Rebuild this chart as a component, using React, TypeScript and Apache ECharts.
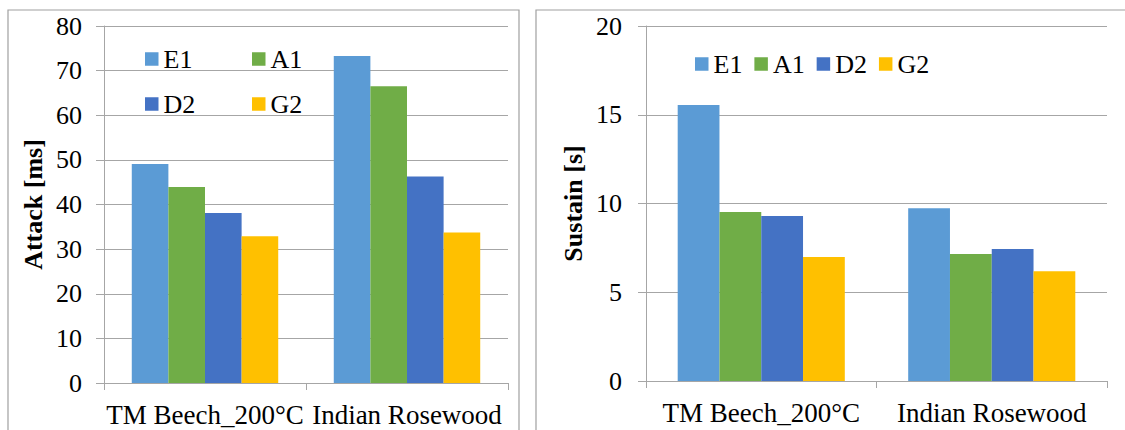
import React, { useEffect, useRef } from "react";
import * as echarts from "echarts";

const categories = ["TM Beech_200°C", "Indian Rosewood"];
const seriesNames = ["E1", "A1", "D2", "G2"];
const colors = ["#5b9bd5", "#70ad47", "#4472c4", "#ffc000"];
const attackE1 = [49.1, 73.3];
const attackA1 = [43.9, 66.5];
const attackD2 = [38.1, 46.3];
const attackG2 = [32.9, 33.7];
const sustainE1 = [15.55, 9.73];
const sustainA1 = [9.52, 7.15];
const sustainD2 = [9.3, 7.44];
const sustainG2 = [6.99, 6.18];
const attackTicks = { min: 0, max: 80, interval: 10 };
const sustainTicks = { min: 0, max: 20, interval: 5 };

const FONT = "Liberation Serif";
const GRID_COLOR = "#a6a6a6";

export default function App() {
  const ref = useRef<HTMLDivElement>(null);
  useEffect(() => {
    if (!ref.current) return;
    const chart = echarts.init(ref.current, undefined, { renderer: "svg" });
    const attack = [attackE1, attackA1, attackD2, attackG2];
    const sustain = [sustainE1, sustainA1, sustainD2, sustainG2];

    const makeX = (gridIndex: number) => ({
      type: "category",
      gridIndex,
      data: categories,
      axisLine: { show: true, lineStyle: { color: GRID_COLOR, width: 1 } },
      axisTick: { show: true, length: 7, interval: 0, lineStyle: { color: GRID_COLOR } },
      axisLabel: { fontFamily: FONT, fontSize: 27, color: "#000", margin: 18, interval: 0 },
      splitLine: { show: false },
    });
    const makeY = (gridIndex: number, t: any, name: string, margin: number, gap: number) => ({
      type: "value",
      gridIndex,
      min: t.min,
      max: t.max,
      interval: t.interval,
      name,
      nameLocation: "middle",
      nameGap: gap,
      nameTextStyle: { fontFamily: FONT, fontSize: 26, fontWeight: "bold", color: "#000" },
      axisLine: { show: true, lineStyle: { color: GRID_COLOR, width: 1 } },
      axisTick: { show: true, length: 8, lineStyle: { color: GRID_COLOR } },
      axisLabel: { fontFamily: FONT, fontSize: 26, color: "#000", margin },
      splitLine: { show: true, lineStyle: { color: GRID_COLOR, width: 1 } },
    });

    const series: any[] = [];
    seriesNames.forEach((n, i) => {
      series.push({
        name: n,
        type: "bar",
        xAxisIndex: 0,
        yAxisIndex: 0,
        data: attack[i],
        itemStyle: { color: colors[i] },
        barGap: "0%",
        barCategoryGap: "27.5%",
      });
    });
    seriesNames.forEach((n, i) => {
      series.push({
        name: n,
        type: "bar",
        xAxisIndex: 1,
        yAxisIndex: 1,
        data: sustain[i],
        itemStyle: { color: colors[i] },
        barGap: "0%",
        barCategoryGap: "27.5%",
      });
    });

    const legendBase = {
      itemWidth: 13.5,
      itemHeight: 13.5,
      itemGap: 12,
      padding: 0,
      icon: "rect",
      selectedMode: false,
      textStyle: { fontFamily: FONT, fontSize: 26, color: "#000" },
    };

    chart.setOption({
      animation: false,
      backgroundColor: "#fff",
      textStyle: { fontFamily: FONT, fontSize: 26, color: "#000" },
      grid: [
        { left: 104, top: 26, width: 404, height: 357, containLabel: false },
        { left: 646, top: 26, width: 461, height: 355, containLabel: false },
      ],
      xAxis: [makeX(0), makeX(1)],
      yAxis: [
        makeY(0, attackTicks, "Attack [ms]", 22, 58),
        makeY(1, sustainTicks, "Sustain [s]", 24, 60),
      ],
      legend: [
        { ...legendBase, data: ["E1"], left: 145, top: 46 },
        { ...legendBase, data: ["A1"], left: 252, top: 46 },
        { ...legendBase, data: ["D2"], left: 145, top: 91 },
        { ...legendBase, data: ["G2"], left: 252, top: 91 },
        { ...legendBase, data: seriesNames, left: 695, top: 51 },
      ],
      graphic: [
        {
          type: "rect",
          shape: { x: 8, y: 10, width: 511, height: 460 },
          style: { fill: "none", stroke: "#a0a0a0", lineWidth: 1.2 },
          silent: true,
          z: 0,
        },
        {
          type: "rect",
          shape: { x: 536, y: 10, width: 620, height: 460 },
          style: { fill: "none", stroke: "#a0a0a0", lineWidth: 1.2 },
          silent: true,
          z: 0,
        },
      ],
      series,
    });
    return () => chart.dispose();
  }, []);
  return (
    <div
      ref={ref}
      style={{ position: "absolute", left: 0, top: 0, width: 1125, height: 430 }}
    />
  );
}
